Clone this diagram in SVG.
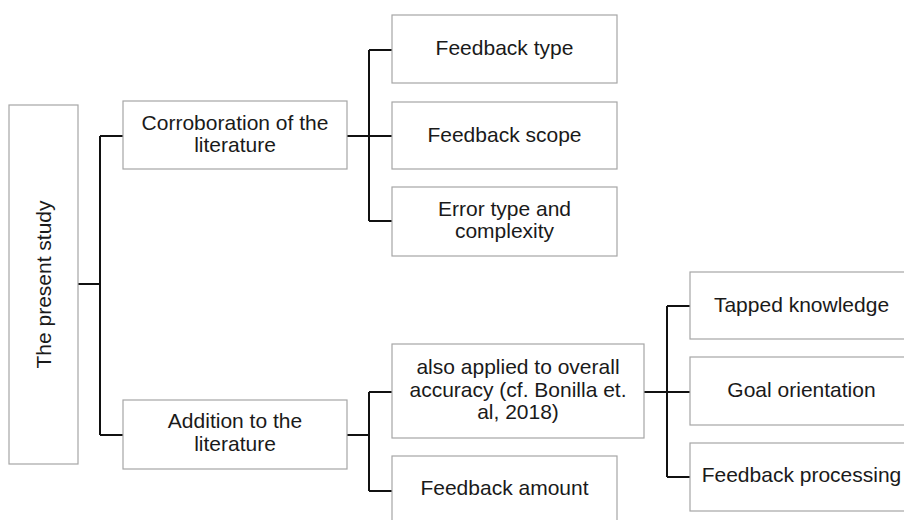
<svg xmlns="http://www.w3.org/2000/svg" width="904" height="520" viewBox="0 0 904 520">
<style>
  .box { fill: #ffffff; stroke: #a6a6a6; stroke-width: 1.2; }
  .lbl { font-family: "Liberation Sans", Arial, sans-serif; font-size: 21px; fill: #1a1a1a; text-anchor: middle; }
  .conn { fill: none; stroke: #111111; stroke-width: 2; }
</style>
<rect width="904" height="520" fill="#ffffff"/>
<g id="connectors">
  <path class="conn" d="M78 284 H100 M100 136 V435 M100 136 H123 M100 435 H123"/>
  <path class="conn" d="M347 136 H369 M369 50 V221 M369 50 H392 M369 136 H392 M369 221 H392"/>
  <path class="conn" d="M347 435 H369 M369 392 V491 M369 392 H392 M369 491 H392"/>
  <path class="conn" d="M644 392 H667 M667 306 V477 M667 306 H690 M667 392 H690 M667 477 H690"/>
</g>
<g id="present-study">
  <rect class="box" x="9" y="105" width="69" height="359"/>
  <text class="lbl" transform="translate(51 284.5) rotate(-90)" x="0" y="0">The present study</text>
</g>
<g id="corroboration">
  <rect class="box" x="123" y="101" width="224" height="68"/>
  <text class="lbl" x="235" y="130">Corroboration of the</text>
  <text class="lbl" x="235" y="152">literature</text>
</g>
<g id="addition">
  <rect class="box" x="123" y="400" width="224" height="69"/>
  <text class="lbl" x="235" y="428">Addition to the</text>
  <text class="lbl" x="235" y="451">literature</text>
</g>
<g id="feedback-type">
  <rect class="box" x="392" y="15" width="225" height="68"/>
  <text class="lbl" x="504.5" y="55">Feedback type</text>
</g>
<g id="feedback-scope">
  <rect class="box" x="392" y="102" width="225" height="67"/>
  <text class="lbl" x="504.5" y="142">Feedback scope</text>
</g>
<g id="error-type">
  <rect class="box" x="392" y="187" width="225" height="69"/>
  <text class="lbl" x="504.5" y="216">Error type and</text>
  <text class="lbl" x="504.5" y="238">complexity</text>
</g>
<g id="overall-accuracy">
  <rect class="box" x="392" y="344" width="252" height="94"/>
  <text class="lbl" x="518" y="374">also applied to overall</text>
  <text class="lbl" x="518" y="397">accuracy (cf. Bonilla et.</text>
  <text class="lbl" x="518" y="419">al, 2018)</text>
</g>
<g id="feedback-amount">
  <rect class="box" x="392" y="456" width="225" height="68"/>
  <text class="lbl" x="504.5" y="495">Feedback amount</text>
</g>
<g id="tapped-knowledge">
  <rect class="box" x="690" y="272" width="225" height="67"/>
  <text class="lbl" x="801.5" y="312">Tapped knowledge</text>
</g>
<g id="goal-orientation">
  <rect class="box" x="690" y="357" width="225" height="68"/>
  <text class="lbl" x="801.5" y="397">Goal orientation</text>
</g>
<g id="feedback-processing">
  <rect class="box" x="690" y="443" width="225" height="68"/>
  <text class="lbl" x="801.5" y="482">Feedback processing</text>
</g>
</svg>
